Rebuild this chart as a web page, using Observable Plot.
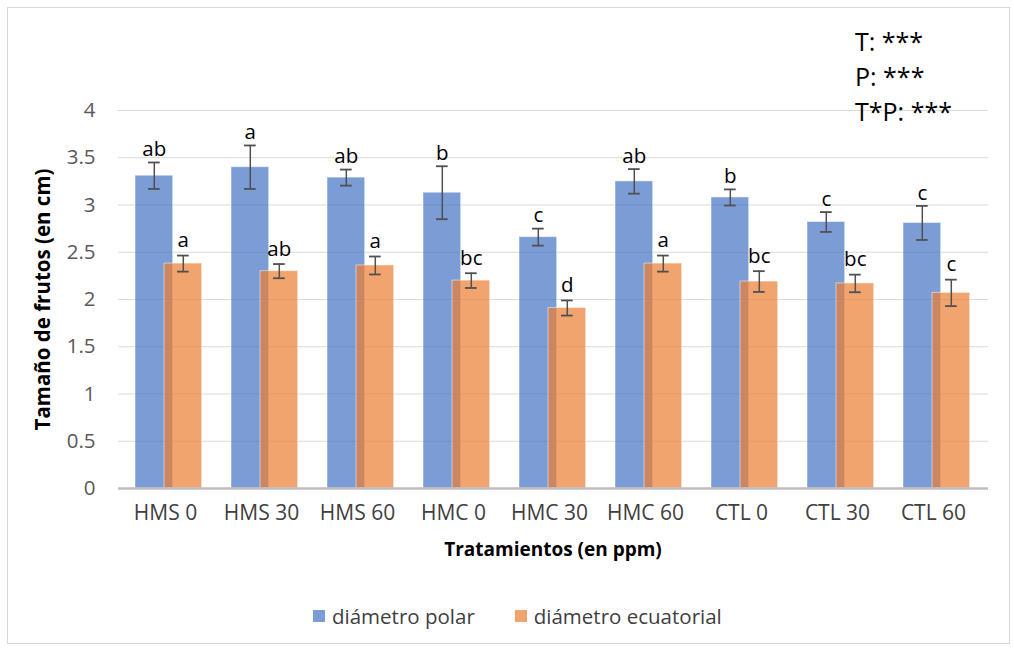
<!DOCTYPE html>
<html><head><meta charset="utf-8">
<script src="https://cdn.jsdelivr.net/npm/d3@7"></script>
<script src="https://cdn.jsdelivr.net/npm/@observablehq/plot@0.6"></script>
<style>
body{margin:0;background:#fff;font-family:"Open Sans",sans-serif;}
#wrap{position:relative;width:1014px;height:648px;overflow:hidden;background:#fff;}
#frame{position:absolute;left:7px;top:7px;width:1003px;height:637px;border:1px solid #d9d9d9;box-sizing:border-box;pointer-events:none;}
#chart{position:absolute;left:0;top:0;}
#stats{position:absolute;left:855px;top:24px;font-size:25px;line-height:35px;color:#000;}
#legend{position:absolute;left:313px;top:602px;height:28px;display:flex;align-items:center;font-size:20.5px;color:#404040;}
#legend .item{display:flex;align-items:center;margin-right:40px;}
#legend .sw{width:12px;height:12px;margin-right:7px;}
</style></head>
<body>
<div id="wrap">
  <div id="chart"></div>
  <div id="stats"></div>
  <div id="legend"></div>
  <div id="frame"></div>
</div>
<script>
const categories = ["HMS 0","HMS 30","HMS 60","HMC 0","HMC 30","HMC 60","CTL 0","CTL 30","CTL 60"];
const polar = [3.31,3.40,3.29,3.13,2.66,3.25,3.08,2.82,2.81];
const polarErr = [0.14,0.23,0.085,0.28,0.09,0.13,0.085,0.105,0.18];
const ecuatorial = [2.38,2.30,2.36,2.20,1.91,2.38,2.19,2.17,2.07];
const ecuatorialErr = [0.085,0.075,0.095,0.078,0.08,0.085,0.11,0.093,0.14];
const polarLetters = ["ab","a","ab","b","c","ab","b","c","c"];
const ecuatorialLetters = ["a","ab","a","bc","d","a","bc","bc","c"];
const yTicks = [0,0.5,1,1.5,2,2.5,3,3.5,4];
const seriesNames = ["diámetro polar","diámetro ecuatorial"];
const seriesColors = ["#4472C4","#ED7D31"];
const statsLines = ["T: ***","P: ***","T*P: ***"];

const rows = categories.map((c,i)=>({cat:c, polar:polar[i], pErr:polarErr[i], pL:polarLetters[i],
  ecu:ecuatorial[i], eErr:ecuatorialErr[i], eL:ecuatorialLetters[i]}));

const errStroke = "#505050";
const chart = Plot.plot({
  width:1014, height:580,
  marginLeft:118, marginRight:29, marginTop:110, marginBottom:92,
  style:{fontFamily:"'Open Sans', sans-serif", background:"transparent"},
  x:{type:"band", domain:categories, padding:0, axis:null},
  y:{domain:[0,4], axis:null},
  marks:[
    Plot.gridY(yTicks,{stroke:"#d9d9d9", strokeOpacity:1, insetRight:-3}),
    Plot.barY(rows,{x:"cat", y:"polar", fill:seriesColors[0], fillOpacity:0.7, stroke:"#fff", strokeOpacity:0.5, insetLeft:15, insetRight:43.3}),
    Plot.barY(rows,{x:"cat", y:"ecu", fill:seriesColors[1], fillOpacity:0.7, stroke:"#fff", strokeOpacity:0.5, insetLeft:44, insetRight:14.3}),
    Plot.ruleY([0],{stroke:"#bfbfbf", strokeWidth:2.5, insetRight:-3}),
    Plot.ruleX(rows,{x:"cat", y1:d=>d.polar-d.pErr, y2:d=>d.polar+d.pErr, dx:-14.2, stroke:errStroke, strokeWidth:1.5}),
    Plot.tickY(rows,{x:"cat", y:d=>d.polar-d.pErr, insetLeft:28, insetRight:56.3, stroke:errStroke, strokeWidth:1.8}),
    Plot.tickY(rows,{x:"cat", y:d=>d.polar+d.pErr, insetLeft:28, insetRight:56.3, stroke:errStroke, strokeWidth:1.8}),
    Plot.ruleX(rows,{x:"cat", y1:d=>d.ecu-d.eErr, y2:d=>d.ecu+d.eErr, dx:14.8, stroke:errStroke, strokeWidth:1.5}),
    Plot.tickY(rows,{x:"cat", y:d=>d.ecu-d.eErr, insetLeft:57, insetRight:27.3, stroke:errStroke, strokeWidth:1.8}),
    Plot.tickY(rows,{x:"cat", y:d=>d.ecu+d.eErr, insetLeft:57, insetRight:27.3, stroke:errStroke, strokeWidth:1.8}),
    Plot.text(rows,{x:"cat", y:d=>d.polar+d.pErr, text:"pL", dx:-14.2, dy:-13, fontSize:20.5, fill:"#000"}),
    Plot.text(rows,{x:"cat", y:d=>d.ecu+d.eErr, text:"eL", dx:14.8, dy:-15, fontSize:20.5, fill:"#000"}),
    Plot.text(yTicks,{y:d=>d, text:d=>String(d), frameAnchor:"left", dx:-23, textAnchor:"end", fontSize:20.5, fill:"#595959"}),
    Plot.text(categories,{x:d=>d, text:d=>d, frameAnchor:"bottom", dy:31, dx:-3, textAnchor:"middle", fontSize:21, fill:"#404040"}),
    Plot.text(["Tamaño de frutos (en cm)"],{frameAnchor:"left", dx:-75, rotate:-90, textAnchor:"middle", fontWeight:"bold", fontSize:20.5, fill:"#000"}),
    Plot.text(["Tratamientos (en ppm)"],{frameAnchor:"bottom", dy:67, dx:1, textAnchor:"middle", fontWeight:"bold", fontSize:19, fill:"#000"})
  ]
});
document.getElementById("chart").appendChild(chart);

document.getElementById("stats").innerHTML = statsLines.map(s=>`<div>${s}</div>`).join("");
document.getElementById("legend").innerHTML = seriesNames.map((n,i)=>
  `<div class="item"><div class="sw" style="background:${seriesColors[i]};opacity:0.7"></div><span>${n}</span></div>`).join("");
</script>
</body></html>
